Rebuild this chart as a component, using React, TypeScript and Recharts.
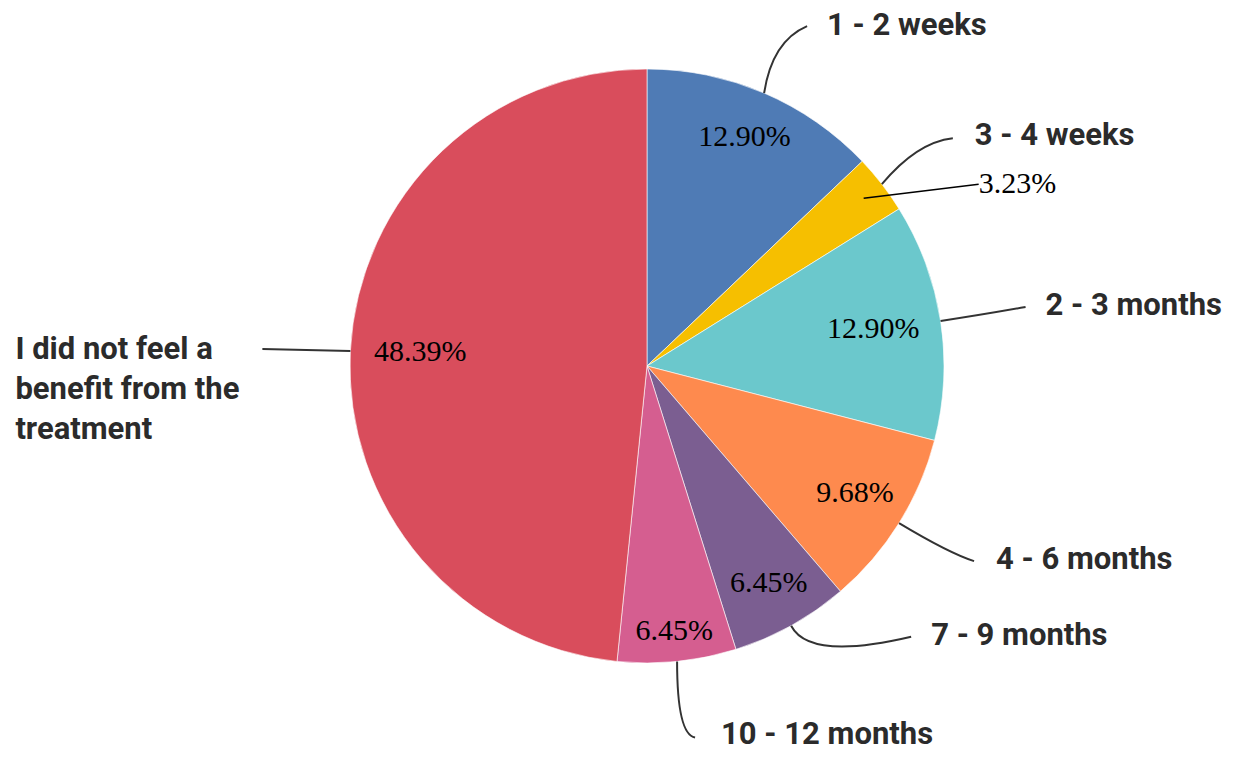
import React from 'react';
import { PieChart, Pie, Cell } from 'recharts';

const categories = [
  '1 - 2 weeks',
  '3 - 4 weeks',
  '2 - 3 months',
  '4 - 6 months',
  '7 - 9 months',
  '10 - 12 months',
  'I did not feel a benefit from the treatment',
];
const percents = [12.9, 3.23, 12.9, 9.68, 6.45, 6.45, 48.39];
const labelLines = [
  ['1 - 2 weeks'],
  ['3 - 4 weeks'],
  ['2 - 3 months'],
  ['4 - 6 months'],
  ['7 - 9 months'],
  ['10 - 12 months'],
  ['I did not feel a', 'benefit from the', 'treatment'],
];

const COLORS = ['#4f7bb5', '#f6bf00', '#6bc8cc', '#fe8a4e', '#7b5e91', '#d55e90', '#d94d5c'];

// leader line shapes, relative to the point on the rim at the slice's mid angle
const LEADERS = [
  { c: [8, -52], e: [43, -67], t: [63, -66] },
  { c: [35, -42], e: [71, -46], t: [93, -47] },
  { c: [40, -6], e: [85, -14], t: [105, -14] },
  { c: [50, 30], e: [75, 38], t: [97, 38] },
  { c: [18, 35], e: [120, 11], t: [140, 11] },
  { c: [0, 73], e: [18, 76], t: [44, 75] },
  { c: [-40, -1], e: [-88, -2], t: [-335, 0] },
];
const PCT_RADIUS = [247, 0, 229, 245, 251, 268, 227];

const RAD = Math.PI / 180;
const data = categories.map((name, i) => ({ name, value: percents[i] }));

const renderLabel = (props: any) => {
  const { cx, cy, midAngle, outerRadius, index } = props;
  const cos = Math.cos(-midAngle * RAD);
  const sin = Math.sin(-midAngle * RAD);
  const sx = cx + outerRadius * cos;
  const sy = cy + outerRadius * sin;
  const L = LEADERS[index];
  const pct = percents[index].toFixed(2) + '%';
  let pctNode;
  if (index === 1) {
    const px = cx + 274 * cos;
    const py = cy + 274 * sin;
    pctNode = (
      <g>
        <line x1={px} y1={py} x2={px + 115} y2={py - 14} stroke="#000" strokeWidth={1.6} />
        <text x={px + 115} y={py - 12} fontFamily="'Liberation Serif', serif" fontSize={30} fill="#000" dominantBaseline="middle">
          {pct}
        </text>
      </g>
    );
  } else {
    const r = PCT_RADIUS[index];
    pctNode = (
      <text x={cx + r * cos} y={cy + r * sin} fontFamily="'Liberation Serif', serif" fontSize={30} fill="#000" textAnchor="middle" dominantBaseline="middle">
        {pct}
      </text>
    );
  }
  const lines = labelLines[index];
  return (
    <g key={'lbl' + index}>
      <path
        d={`M${sx},${sy} Q${sx + L.c[0]},${sy + L.c[1]} ${sx + L.e[0]},${sy + L.e[1]}`}
        fill="none"
        stroke="#333"
        strokeWidth={2}
      />
      <text
        x={sx + L.t[0]}
        y={sy + L.t[1]}
        fontFamily="Roboto, sans-serif"
        fontWeight={700}
        fontSize={31}
        fill="#2b2b2b"
        dominantBaseline="middle"
      >
        {lines.map((ln, k) => (
          <tspan key={k} x={sx + L.t[0]} dy={k === 0 ? 0 : 40}>
            {ln}
          </tspan>
        ))}
      </text>
      {pctNode}
    </g>
  );
};

export default function App() {
  return (
    <div style={{ width: 1240, height: 757, background: '#fff' }}>
      <style>{'body{margin:0}'}</style>
      <PieChart width={1240} height={757} margin={{ top: 0, right: 0, bottom: 0, left: 0 }}>
        <Pie
          data={data}
          dataKey="value"
          nameKey="name"
          cx={647}
          cy={366}
          outerRadius={297}
          startAngle={90}
          endAngle={-270}
          stroke="#fff"
          strokeWidth={0.6}
          label={renderLabel}
          labelLine={false}
          isAnimationActive={false}
        >
          {data.map((d, i) => (
            <Cell key={d.name} fill={COLORS[i]} />
          ))}
        </Pie>
      </PieChart>
    </div>
  );
}
